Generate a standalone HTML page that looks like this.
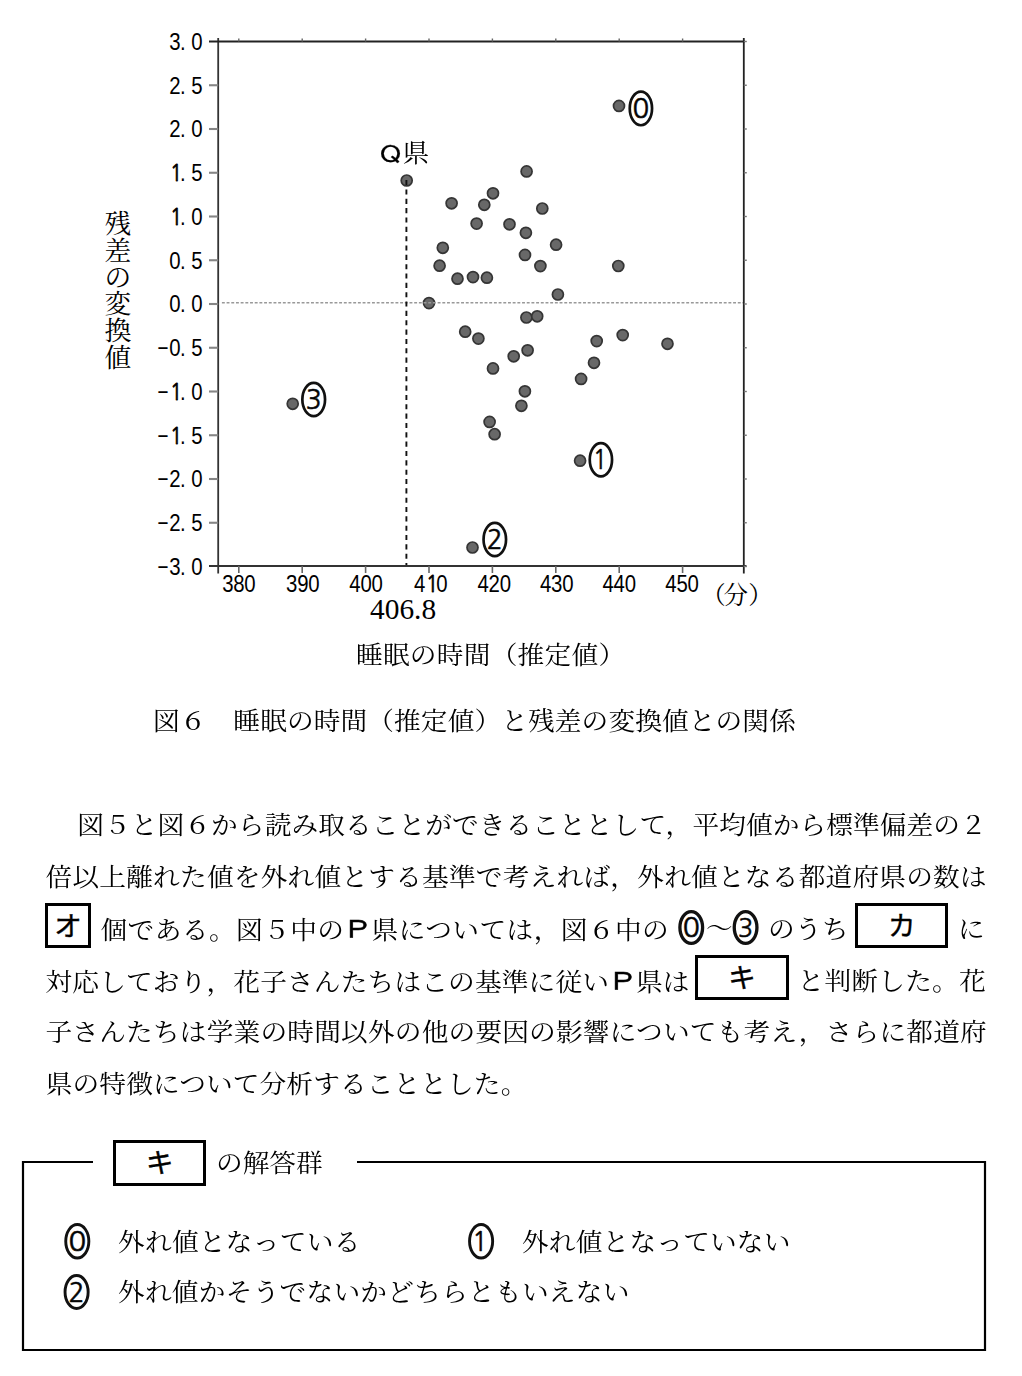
<!DOCTYPE html>
<html lang="ja"><head><meta charset="utf-8"><title>図6</title>
<style>
html,body{margin:0;padding:0;background:#fff;}
#pg{position:relative;width:1022px;height:1376px;overflow:hidden;background:#fff;color:#000;}
.abs{position:absolute;left:0;top:0;}
.t{position:absolute;font-family:"Liberation Serif","Noto Serif CJK JP","Noto Serif CJK SC",serif;font-size:26.7px;line-height:1;white-space:nowrap;transform:scaleY(0.94);transform-origin:0 60%;}
.j{position:absolute;font-family:"Noto Serif CJK JP","Noto Serif CJK SC",serif;font-size:26.7px;line-height:1;white-space:nowrap;}
.p{font-family:"IPAGothic",sans-serif;display:inline-block;transform:scaleX(1.14);-webkit-text-stroke:0.45px #000;}
.bx{position:absolute;border:3px solid #000;box-sizing:border-box;font-family:"Noto Sans CJK JP","Noto Sans CJK SC",sans-serif;font-weight:400;-webkit-text-stroke:0.4px #000;font-size:27.5px;line-height:1;display:flex;align-items:center;justify-content:center;}
.bx span{position:relative;top:-1px;}
</style></head><body><div id="pg">
<svg class="abs" width="1022" height="700" viewBox="0 0 1022 700"><defs><filter id="bl" x="-50%" y="-50%" width="200%" height="200%"><feGaussianBlur stdDeviation="0.35"/></filter></defs><g filter="url(#bl)">
<circle cx="406.7" cy="180.5" r="5.5" fill="#676767" stroke="#353535" stroke-width="1.7"/>
<circle cx="526.6" cy="171.4" r="5.5" fill="#676767" stroke="#353535" stroke-width="1.7"/>
<circle cx="493.0" cy="193.3" r="5.5" fill="#676767" stroke="#353535" stroke-width="1.7"/>
<circle cx="451.6" cy="203.3" r="5.5" fill="#676767" stroke="#353535" stroke-width="1.7"/>
<circle cx="484.3" cy="204.8" r="5.5" fill="#676767" stroke="#353535" stroke-width="1.7"/>
<circle cx="542.3" cy="208.5" r="5.5" fill="#676767" stroke="#353535" stroke-width="1.7"/>
<circle cx="476.6" cy="223.6" r="5.5" fill="#676767" stroke="#353535" stroke-width="1.7"/>
<circle cx="509.5" cy="224.3" r="5.5" fill="#676767" stroke="#353535" stroke-width="1.7"/>
<circle cx="525.9" cy="232.8" r="5.5" fill="#676767" stroke="#353535" stroke-width="1.7"/>
<circle cx="442.8" cy="247.8" r="5.5" fill="#676767" stroke="#353535" stroke-width="1.7"/>
<circle cx="556.1" cy="244.7" r="5.5" fill="#676767" stroke="#353535" stroke-width="1.7"/>
<circle cx="525.0" cy="254.9" r="5.5" fill="#676767" stroke="#353535" stroke-width="1.7"/>
<circle cx="439.6" cy="265.7" r="5.5" fill="#676767" stroke="#353535" stroke-width="1.7"/>
<circle cx="540.4" cy="266.1" r="5.5" fill="#676767" stroke="#353535" stroke-width="1.7"/>
<circle cx="457.5" cy="278.7" r="5.5" fill="#676767" stroke="#353535" stroke-width="1.7"/>
<circle cx="473.0" cy="277.1" r="5.5" fill="#676767" stroke="#353535" stroke-width="1.7"/>
<circle cx="486.9" cy="277.7" r="5.5" fill="#676767" stroke="#353535" stroke-width="1.7"/>
<circle cx="557.9" cy="294.5" r="5.5" fill="#676767" stroke="#353535" stroke-width="1.7"/>
<circle cx="429.0" cy="303.1" r="5.5" fill="#676767" stroke="#353535" stroke-width="1.7"/>
<circle cx="618.3" cy="266.0" r="5.5" fill="#676767" stroke="#353535" stroke-width="1.7"/>
<circle cx="619.0" cy="105.9" r="5.5" fill="#676767" stroke="#353535" stroke-width="1.7"/>
<circle cx="465.2" cy="331.7" r="5.5" fill="#676767" stroke="#353535" stroke-width="1.7"/>
<circle cx="478.4" cy="338.6" r="5.5" fill="#676767" stroke="#353535" stroke-width="1.7"/>
<circle cx="526.4" cy="317.5" r="5.5" fill="#676767" stroke="#353535" stroke-width="1.7"/>
<circle cx="537.2" cy="316.3" r="5.5" fill="#676767" stroke="#353535" stroke-width="1.7"/>
<circle cx="596.7" cy="341.1" r="5.5" fill="#676767" stroke="#353535" stroke-width="1.7"/>
<circle cx="622.7" cy="335.1" r="5.5" fill="#676767" stroke="#353535" stroke-width="1.7"/>
<circle cx="667.5" cy="343.8" r="5.5" fill="#676767" stroke="#353535" stroke-width="1.7"/>
<circle cx="527.6" cy="350.3" r="5.5" fill="#676767" stroke="#353535" stroke-width="1.7"/>
<circle cx="513.7" cy="356.3" r="5.5" fill="#676767" stroke="#353535" stroke-width="1.7"/>
<circle cx="594.0" cy="362.8" r="5.5" fill="#676767" stroke="#353535" stroke-width="1.7"/>
<circle cx="493.0" cy="368.4" r="5.5" fill="#676767" stroke="#353535" stroke-width="1.7"/>
<circle cx="581.1" cy="378.9" r="5.5" fill="#676767" stroke="#353535" stroke-width="1.7"/>
<circle cx="524.9" cy="391.3" r="5.5" fill="#676767" stroke="#353535" stroke-width="1.7"/>
<circle cx="521.4" cy="405.8" r="5.5" fill="#676767" stroke="#353535" stroke-width="1.7"/>
<circle cx="489.6" cy="421.9" r="5.5" fill="#676767" stroke="#353535" stroke-width="1.7"/>
<circle cx="494.6" cy="434.2" r="5.5" fill="#676767" stroke="#353535" stroke-width="1.7"/>
<circle cx="580.1" cy="460.7" r="5.5" fill="#676767" stroke="#353535" stroke-width="1.7"/>
<circle cx="472.5" cy="547.5" r="5.5" fill="#676767" stroke="#353535" stroke-width="1.7"/>
<circle cx="292.7" cy="403.8" r="5.5" fill="#676767" stroke="#353535" stroke-width="1.7"/>
</g>
<line x1="221.9" y1="302.75" x2="743.8" y2="302.75" stroke="#999" stroke-width="1.4" stroke-dasharray="2.9 1.79"/>
<line x1="406.4" y1="180.1" x2="406.4" y2="566.0" stroke="#111" stroke-width="1.9" stroke-dasharray="5.1 4.24"/>
<line x1="218.2" y1="38" x2="218.2" y2="573.5" stroke="#333" stroke-width="1.8"/>
<line x1="743.8" y1="38" x2="743.8" y2="573.5" stroke="#222" stroke-width="1.8"/>
<line x1="209" y1="41.5" x2="744.8" y2="41.5" stroke="#222" stroke-width="1.8"/>
<line x1="209" y1="566.0" x2="746.5" y2="566.0" stroke="#333" stroke-width="1.8"/>
<line x1="743.8" y1="41.50" x2="746.8" y2="41.50" stroke="#777" stroke-width="1.4"/>
<text transform="translate(169.14,49.95) scale(0.86,1)" font-family="Liberation Sans" font-size="23.7">3</text>
<text transform="translate(179.98,49.95) scale(0.86,1)" font-family="Liberation Sans" font-size="23.7">.</text>
<text transform="translate(191.14,49.95) scale(0.86,1)" font-family="Liberation Sans" font-size="23.7">0</text>
<line x1="209" y1="85.25" x2="218.2" y2="85.25" stroke="#858585" stroke-width="2.1"/>
<line x1="743.8" y1="85.25" x2="746.8" y2="85.25" stroke="#777" stroke-width="1.4"/>
<text transform="translate(169.14,93.70) scale(0.86,1)" font-family="Liberation Sans" font-size="23.7">2</text>
<text transform="translate(179.98,93.70) scale(0.86,1)" font-family="Liberation Sans" font-size="23.7">.</text>
<text transform="translate(191.14,93.70) scale(0.86,1)" font-family="Liberation Sans" font-size="23.7">5</text>
<line x1="209" y1="129.00" x2="218.2" y2="129.00" stroke="#858585" stroke-width="2.1"/>
<line x1="743.8" y1="129.00" x2="746.8" y2="129.00" stroke="#777" stroke-width="1.4"/>
<text transform="translate(169.14,137.45) scale(0.86,1)" font-family="Liberation Sans" font-size="23.7">2</text>
<text transform="translate(179.98,137.45) scale(0.86,1)" font-family="Liberation Sans" font-size="23.7">.</text>
<text transform="translate(191.14,137.45) scale(0.86,1)" font-family="Liberation Sans" font-size="23.7">0</text>
<line x1="209" y1="172.75" x2="218.2" y2="172.75" stroke="#858585" stroke-width="2.1"/>
<line x1="743.8" y1="172.75" x2="746.8" y2="172.75" stroke="#777" stroke-width="1.4"/>
<text transform="translate(170.02,181.20) scale(0.86,1)" font-family="NanumGothic" font-size="23.7" stroke="#000" stroke-width="0.75">1</text>
<text transform="translate(179.98,181.20) scale(0.86,1)" font-family="Liberation Sans" font-size="23.7">.</text>
<text transform="translate(191.14,181.20) scale(0.86,1)" font-family="Liberation Sans" font-size="23.7">5</text>
<line x1="209" y1="216.50" x2="218.2" y2="216.50" stroke="#858585" stroke-width="2.1"/>
<line x1="743.8" y1="216.50" x2="746.8" y2="216.50" stroke="#777" stroke-width="1.4"/>
<text transform="translate(170.02,224.95) scale(0.86,1)" font-family="NanumGothic" font-size="23.7" stroke="#000" stroke-width="0.75">1</text>
<text transform="translate(179.98,224.95) scale(0.86,1)" font-family="Liberation Sans" font-size="23.7">.</text>
<text transform="translate(191.14,224.95) scale(0.86,1)" font-family="Liberation Sans" font-size="23.7">0</text>
<line x1="209" y1="260.25" x2="218.2" y2="260.25" stroke="#858585" stroke-width="2.1"/>
<line x1="743.8" y1="260.25" x2="746.8" y2="260.25" stroke="#777" stroke-width="1.4"/>
<text transform="translate(169.14,268.70) scale(0.86,1)" font-family="Liberation Sans" font-size="23.7">0</text>
<text transform="translate(179.98,268.70) scale(0.86,1)" font-family="Liberation Sans" font-size="23.7">.</text>
<text transform="translate(191.14,268.70) scale(0.86,1)" font-family="Liberation Sans" font-size="23.7">5</text>
<line x1="209" y1="304.00" x2="218.2" y2="304.00" stroke="#858585" stroke-width="2.1"/>
<line x1="743.8" y1="304.00" x2="746.8" y2="304.00" stroke="#777" stroke-width="1.4"/>
<text transform="translate(169.14,312.45) scale(0.86,1)" font-family="Liberation Sans" font-size="23.7">0</text>
<text transform="translate(179.98,312.45) scale(0.86,1)" font-family="Liberation Sans" font-size="23.7">.</text>
<text transform="translate(191.14,312.45) scale(0.86,1)" font-family="Liberation Sans" font-size="23.7">0</text>
<line x1="209" y1="347.75" x2="218.2" y2="347.75" stroke="#858585" stroke-width="2.1"/>
<line x1="743.8" y1="347.75" x2="746.8" y2="347.75" stroke="#777" stroke-width="1.4"/>
<text transform="translate(169.14,356.20) scale(0.86,1)" font-family="Liberation Sans" font-size="23.7">0</text>
<text transform="translate(179.98,356.20) scale(0.86,1)" font-family="Liberation Sans" font-size="23.7">.</text>
<text transform="translate(191.14,356.20) scale(0.86,1)" font-family="Liberation Sans" font-size="23.7">5</text>
<text transform="translate(157.50,356.20) scale(0.8,1)" font-family="Liberation Sans" font-size="23.7">−</text>
<line x1="209" y1="391.50" x2="218.2" y2="391.50" stroke="#858585" stroke-width="2.1"/>
<line x1="743.8" y1="391.50" x2="746.8" y2="391.50" stroke="#777" stroke-width="1.4"/>
<text transform="translate(170.02,399.95) scale(0.86,1)" font-family="NanumGothic" font-size="23.7" stroke="#000" stroke-width="0.75">1</text>
<text transform="translate(179.98,399.95) scale(0.86,1)" font-family="Liberation Sans" font-size="23.7">.</text>
<text transform="translate(191.14,399.95) scale(0.86,1)" font-family="Liberation Sans" font-size="23.7">0</text>
<text transform="translate(157.50,399.95) scale(0.8,1)" font-family="Liberation Sans" font-size="23.7">−</text>
<line x1="209" y1="435.25" x2="218.2" y2="435.25" stroke="#858585" stroke-width="2.1"/>
<line x1="743.8" y1="435.25" x2="746.8" y2="435.25" stroke="#777" stroke-width="1.4"/>
<text transform="translate(170.02,443.70) scale(0.86,1)" font-family="NanumGothic" font-size="23.7" stroke="#000" stroke-width="0.75">1</text>
<text transform="translate(179.98,443.70) scale(0.86,1)" font-family="Liberation Sans" font-size="23.7">.</text>
<text transform="translate(191.14,443.70) scale(0.86,1)" font-family="Liberation Sans" font-size="23.7">5</text>
<text transform="translate(157.50,443.70) scale(0.8,1)" font-family="Liberation Sans" font-size="23.7">−</text>
<line x1="209" y1="479.00" x2="218.2" y2="479.00" stroke="#858585" stroke-width="2.1"/>
<line x1="743.8" y1="479.00" x2="746.8" y2="479.00" stroke="#777" stroke-width="1.4"/>
<text transform="translate(169.14,487.45) scale(0.86,1)" font-family="Liberation Sans" font-size="23.7">2</text>
<text transform="translate(179.98,487.45) scale(0.86,1)" font-family="Liberation Sans" font-size="23.7">.</text>
<text transform="translate(191.14,487.45) scale(0.86,1)" font-family="Liberation Sans" font-size="23.7">0</text>
<text transform="translate(157.50,487.45) scale(0.8,1)" font-family="Liberation Sans" font-size="23.7">−</text>
<line x1="209" y1="522.75" x2="218.2" y2="522.75" stroke="#858585" stroke-width="2.1"/>
<line x1="743.8" y1="522.75" x2="746.8" y2="522.75" stroke="#777" stroke-width="1.4"/>
<text transform="translate(169.14,531.20) scale(0.86,1)" font-family="Liberation Sans" font-size="23.7">2</text>
<text transform="translate(179.98,531.20) scale(0.86,1)" font-family="Liberation Sans" font-size="23.7">.</text>
<text transform="translate(191.14,531.20) scale(0.86,1)" font-family="Liberation Sans" font-size="23.7">5</text>
<text transform="translate(157.50,531.20) scale(0.8,1)" font-family="Liberation Sans" font-size="23.7">−</text>
<line x1="743.8" y1="566.50" x2="746.8" y2="566.50" stroke="#777" stroke-width="1.4"/>
<text transform="translate(169.14,574.95) scale(0.86,1)" font-family="Liberation Sans" font-size="23.7">3</text>
<text transform="translate(179.98,574.95) scale(0.86,1)" font-family="Liberation Sans" font-size="23.7">.</text>
<text transform="translate(191.14,574.95) scale(0.86,1)" font-family="Liberation Sans" font-size="23.7">0</text>
<text transform="translate(157.50,574.95) scale(0.8,1)" font-family="Liberation Sans" font-size="23.7">−</text>
<line x1="238.80" y1="566.0" x2="238.80" y2="573.0" stroke="#666" stroke-width="1.6"/>
<line x1="238.80" y1="41.5" x2="238.80" y2="38.5" stroke="#666" stroke-width="1.4"/>
<text transform="translate(222.14,592.30) scale(0.86,1)" font-family="Liberation Sans" font-size="23.7">3</text>
<text transform="translate(233.24,592.30) scale(0.86,1)" font-family="Liberation Sans" font-size="23.7">8</text>
<text transform="translate(244.34,592.30) scale(0.86,1)" font-family="Liberation Sans" font-size="23.7">0</text>
<line x1="302.20" y1="566.0" x2="302.20" y2="573.0" stroke="#666" stroke-width="1.6"/>
<line x1="302.20" y1="41.5" x2="302.20" y2="38.5" stroke="#666" stroke-width="1.4"/>
<text transform="translate(286.04,592.30) scale(0.86,1)" font-family="Liberation Sans" font-size="23.7">3</text>
<text transform="translate(297.14,592.30) scale(0.86,1)" font-family="Liberation Sans" font-size="23.7">9</text>
<text transform="translate(308.24,592.30) scale(0.86,1)" font-family="Liberation Sans" font-size="23.7">0</text>
<line x1="365.60" y1="566.0" x2="365.60" y2="573.0" stroke="#666" stroke-width="1.6"/>
<line x1="365.60" y1="41.5" x2="365.60" y2="38.5" stroke="#666" stroke-width="1.4"/>
<text transform="translate(349.34,592.30) scale(0.86,1)" font-family="Liberation Sans" font-size="23.7">4</text>
<text transform="translate(360.44,592.30) scale(0.86,1)" font-family="Liberation Sans" font-size="23.7">0</text>
<text transform="translate(371.54,592.30) scale(0.86,1)" font-family="Liberation Sans" font-size="23.7">0</text>
<line x1="429.00" y1="566.0" x2="429.00" y2="573.0" stroke="#666" stroke-width="1.6"/>
<line x1="429.00" y1="41.5" x2="429.00" y2="38.5" stroke="#666" stroke-width="1.4"/>
<text transform="translate(413.94,592.30) scale(0.86,1)" font-family="Liberation Sans" font-size="23.7">4</text>
<text transform="translate(425.92,592.30) scale(0.86,1)" font-family="NanumGothic" font-size="23.7" stroke="#000" stroke-width="0.75">1</text>
<text transform="translate(436.14,592.30) scale(0.86,1)" font-family="Liberation Sans" font-size="23.7">0</text>
<line x1="492.40" y1="566.0" x2="492.40" y2="573.0" stroke="#666" stroke-width="1.6"/>
<line x1="492.40" y1="41.5" x2="492.40" y2="38.5" stroke="#666" stroke-width="1.4"/>
<text transform="translate(477.44,592.30) scale(0.86,1)" font-family="Liberation Sans" font-size="23.7">4</text>
<text transform="translate(488.54,592.30) scale(0.86,1)" font-family="Liberation Sans" font-size="23.7">2</text>
<text transform="translate(499.64,592.30) scale(0.86,1)" font-family="Liberation Sans" font-size="23.7">0</text>
<line x1="555.80" y1="566.0" x2="555.80" y2="573.0" stroke="#666" stroke-width="1.6"/>
<line x1="555.80" y1="41.5" x2="555.80" y2="38.5" stroke="#666" stroke-width="1.4"/>
<text transform="translate(539.94,592.30) scale(0.86,1)" font-family="Liberation Sans" font-size="23.7">4</text>
<text transform="translate(551.04,592.30) scale(0.86,1)" font-family="Liberation Sans" font-size="23.7">3</text>
<text transform="translate(562.14,592.30) scale(0.86,1)" font-family="Liberation Sans" font-size="23.7">0</text>
<line x1="619.20" y1="566.0" x2="619.20" y2="573.0" stroke="#666" stroke-width="1.6"/>
<line x1="619.20" y1="41.5" x2="619.20" y2="38.5" stroke="#666" stroke-width="1.4"/>
<text transform="translate(602.44,592.30) scale(0.86,1)" font-family="Liberation Sans" font-size="23.7">4</text>
<text transform="translate(613.54,592.30) scale(0.86,1)" font-family="Liberation Sans" font-size="23.7">4</text>
<text transform="translate(624.64,592.30) scale(0.86,1)" font-family="Liberation Sans" font-size="23.7">0</text>
<line x1="682.60" y1="566.0" x2="682.60" y2="573.0" stroke="#666" stroke-width="1.6"/>
<line x1="682.60" y1="41.5" x2="682.60" y2="38.5" stroke="#666" stroke-width="1.4"/>
<text transform="translate(665.34,592.30) scale(0.86,1)" font-family="Liberation Sans" font-size="23.7">4</text>
<text transform="translate(676.44,592.30) scale(0.86,1)" font-family="Liberation Sans" font-size="23.7">5</text>
<text transform="translate(687.54,592.30) scale(0.86,1)" font-family="Liberation Sans" font-size="23.7">0</text>
<ellipse cx="640.9" cy="108.45" rx="11.15" ry="16.80" fill="#fff" stroke="#111" stroke-width="2.7"/><text x="632.54" y="118.45" font-family="NanumGothic" font-size="27.40" textLength="16.71" lengthAdjust="spacingAndGlyphs" stroke="#111" stroke-width="0.6">0</text>
<ellipse cx="600.9" cy="459.8" rx="11.15" ry="16.65" fill="#fff" stroke="#111" stroke-width="2.7"/><text x="593.09" y="469.30" font-family="NanumGothic" font-size="26.03" textLength="14.03" lengthAdjust="spacingAndGlyphs" stroke="#111" stroke-width="0.6">1</text>
<ellipse cx="494.8" cy="539.5" rx="11.25" ry="16.65" fill="#fff" stroke="#111" stroke-width="2.7"/><text x="486.87" y="549.00" font-family="NanumGothic" font-size="26.03" textLength="15.86" lengthAdjust="spacingAndGlyphs" stroke="#111" stroke-width="0.6">2</text>
<ellipse cx="313.7" cy="399.5" rx="11.35" ry="16.65" fill="#fff" stroke="#111" stroke-width="2.7"/><text x="305.77" y="409.00" font-family="NanumGothic" font-size="26.03" textLength="15.86" lengthAdjust="spacingAndGlyphs" stroke="#111" stroke-width="0.6">3</text></svg>
<div class="t" style="left:104.5px;top:211.3px;width:27px;line-height:26.7px;white-space:normal;transform:none;">残差の変換値</div>
<div class="j" style="left:375.5px;top:143px;font-family:'IPAGothic',sans-serif;font-size:26.7px;transform:scale(1.09,0.88);transform-origin:0 0;-webkit-text-stroke:0.2px #000;">Ｑ</div>
<div class="t" style="left:402.5px;top:140px;">県</div>
<div class="j" style="left:370px;top:594.7px;font-family:'Liberation Serif',serif;font-size:29.4px;">406.8</div>
<div class="j" style="left:701.2px;top:581.5px;font-size:24.5px;">（</div><div class="j" style="left:723.5px;top:581.7px;font-size:24.5px;">分</div><div class="j" style="left:748.2px;top:581.5px;font-size:24.5px;">）</div>
<div class="t" style="left:356px;top:642px;letter-spacing:0.25px">睡眠の時間（推定値）</div>
<div class="t" style="left:153px;top:708.2px;letter-spacing:0.1px">図６　睡眠の時間（推定値）と残差の変換値との関係</div>
<div class="t" style="left:50.5px;top:812.4px;letter-spacing:0.08px;">　図５と図６から読み取ることができることとして，平均値から標準偏差の２</div>
<div class="t" style="left:45.5px;top:864.15px;letter-spacing:0.21px;">倍以上離れた値を外れ値とする基準で考えれば，外れ値となる都道府県の数は</div>
<div class="t" style="left:100.5px;top:915.9px;letter-spacing:0.42px;">個である。図５中の<span class="p">Ｐ</span>県については，図６中の</div>
<div class="t" style="left:706px;top:914.9px;letter-spacing:0.0px;">～</div>
<div class="t" style="left:768px;top:915.9px;letter-spacing:0.3px;">のうち</div>
<div class="t" style="left:957.9px;top:915.9px;letter-spacing:0.0px;">に</div>
<div class="t" style="left:45.5px;top:967.65px;letter-spacing:0.15px;">対応しており，花子さんたちはこの基準に従い<span class="p">Ｐ</span>県は</div>
<div class="t" style="left:797.6px;top:967.65px;letter-spacing:0.2px;">と判断した。花</div>
<div class="t" style="left:45.5px;top:1019.4px;letter-spacing:0.18px;">子さんたちは学業の時間以外の他の要因の影響についても考え，さらに都道府</div>
<div class="t" style="left:45.8px;top:1071.15px;letter-spacing:0.1px;">県の特徴について分析することとした。</div>
<div class="bx" style="left:45.2px;top:902.8px;width:45.4px;height:45.4px;"><span>オ</span></div>
<div class="bx" style="left:855.2px;top:903.1px;width:93.3px;height:45.1px;"><span>カ</span></div>
<div class="bx" style="left:695.4px;top:955.2px;width:93.4px;height:44.5px;"><span>キ</span></div>
<div class="bx" style="left:113.2px;top:1140.4px;width:93.2px;height:45.2px;"><span>キ</span></div>
<div class="t" style="left:216px;top:1150.4px;">の解答群</div>
<div class="t" style="left:118px;top:1229px;letter-spacing:0.28px">外れ値となっている</div>
<div class="t" style="left:522px;top:1229px;letter-spacing:0.17px">外れ値となっていない</div>
<div class="t" style="left:118px;top:1279px;letter-spacing:0.24px">外れ値かそうでないかどちらともいえない</div>
<svg class="abs" width="1022" height="1376" viewBox="0 0 1022 1376"><polyline points="93,1162 23,1162 23,1350 985,1350 985,1162 357,1162" fill="none" stroke="#000" stroke-width="2.2"/>
<ellipse cx="691.25" cy="927.5" rx="11.35" ry="15.95" fill="#fff" stroke="#111" stroke-width="3.3"/><text x="682.71" y="937.30" font-family="NanumGothic" font-size="26.85" textLength="17.08" lengthAdjust="spacingAndGlyphs" stroke="#111" stroke-width="0.6">0</text>
<ellipse cx="745.6" cy="927.5" rx="11.35" ry="15.95" fill="#fff" stroke="#111" stroke-width="3.3"/><text x="738.04" y="936.70" font-family="NanumGothic" font-size="25.21" textLength="15.13" lengthAdjust="spacingAndGlyphs" stroke="#111" stroke-width="0.6">3</text>
<ellipse cx="77.3" cy="1241.3" rx="11.55" ry="16.75" fill="#fff" stroke="#111" stroke-width="2.9"/><text x="68.45" y="1251.30" font-family="NanumGothic" font-size="27.40" textLength="17.69" lengthAdjust="spacingAndGlyphs" stroke="#111" stroke-width="0.6">0</text>
<ellipse cx="481.1" cy="1241.3" rx="11.55" ry="16.75" fill="#fff" stroke="#111" stroke-width="2.9"/><text x="472.28" y="1251.00" font-family="NanumGothic" font-size="26.58" textLength="15.25" lengthAdjust="spacingAndGlyphs" stroke="#111" stroke-width="0.6">1</text>
<ellipse cx="76.6" cy="1292.0" rx="11.55" ry="16.55" fill="#fff" stroke="#111" stroke-width="2.9"/><text x="68.61" y="1301.60" font-family="NanumGothic" font-size="26.30" textLength="15.98" lengthAdjust="spacingAndGlyphs" stroke="#111" stroke-width="0.6">2</text></svg>
</div></body></html>
